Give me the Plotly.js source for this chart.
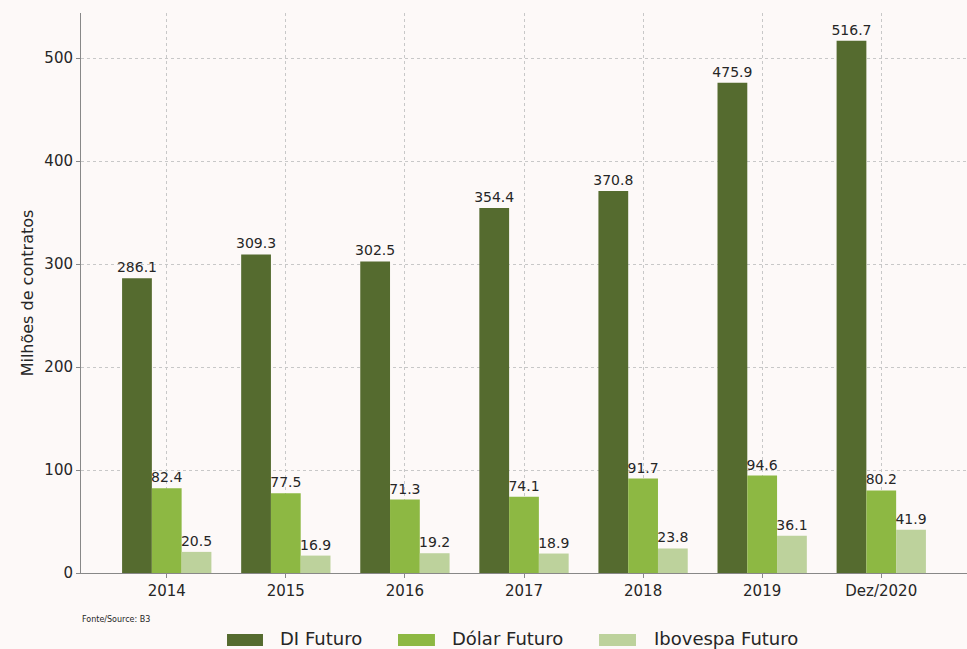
<!DOCTYPE html>
<html>
<head>
<meta charset="utf-8">
<script src="https://cdn.plot.ly/plotly-3.0.1.min.js"></script>
<style>html,body{margin:0;padding:0;background:#fdf9f8;}#chart{width:967px;height:649px;}</style>
</head>
<body>
<div id="chart"></div>
<script>
const categories = ["2014", "2015", "2016", "2017", "2018", "2019", "Dez/2020"];
const diFuturo = [286.1, 309.3, 302.5, 354.4, 370.8, 475.9, 516.7];
const dolarFuturo = [82.4, 77.5, 71.3, 74.1, 91.7, 94.6, 80.2];
const ibovespaFuturo = [20.5, 16.9, 19.2, 18.9, 23.8, 36.1, 41.9];
const seriesNames = ["DI Futuro", "Dólar Futuro", "Ibovespa Futuro"];
const yTicks = [0, 100, 200, 300, 400, 500];

const colors = ["#556b2f", "#8db843", "#bdd29c"];
const font = "DejaVu Sans, sans-serif";
const txt = "#262626";

function mk(name, vals, color) {
  return {
    type: "bar", name: name, x: categories, y: vals,
    marker: {color: color, line: {width: 0}},
    text: vals.map(v => v.toFixed(1)),
    textposition: "outside",
    constraintext: "none",
    cliponaxis: false,
    textfont: {family: font, size: 14, color: txt},
    hoverinfo: "skip"
  };
}

const data = [
  mk(seriesNames[0], diFuturo, colors[0]),
  mk(seriesNames[1], dolarFuturo, colors[1]),
  mk(seriesNames[2], ibovespaFuturo, colors[2])
];

// custom legend (matplotlib style wide patches)
const legendPos = [
  {x0: 0.1648, x1: 0.2054, tx: 0.2223},
  {x0: 0.3578, x1: 0.3995, tx: 0.4165},
  {x0: 0.5847, x1: 0.6264, tx: 0.6445}
];
const shapes = legendPos.map((p, i) => ({
  type: "rect", xref: "paper", yref: "paper",
  x0: p.x0, x1: p.x1, y0: -0.1303, y1: -0.1089,
  fillcolor: colors[i], line: {width: 0}
}));
const annotations = legendPos.map((p, i) => ({
  text: seriesNames[i], xref: "paper", yref: "paper", x: p.tx, y: -0.1161,
  xanchor: "left", yanchor: "middle", showarrow: false,
  font: {family: font, size: 18, color: txt}
}));
annotations.push({
  text: "Fonte/Source: B3", xref: "paper", yref: "paper", x: -0.001, y: -0.0839,
  xanchor: "left", yanchor: "middle", showarrow: false,
  font: {family: font, size: 8, color: txt}
});

const layout = {
  width: 967, height: 649,
  paper_bgcolor: "#fdf9f8", plot_bgcolor: "#fdf9f8",
  margin: {l: 81, r: 0, t: 13, b: 76, autoexpand: false},
  barmode: "group", bargap: 0.25, bargroupgap: 0,
  font: {family: font, color: txt},
  showlegend: false,
  xaxis: {
    type: "category",
    range: [-0.72, 6.72],
    showgrid: true, gridcolor: "#c8c8c8", griddash: "dot", gridwidth: 1,
    ticks: "outside", ticklen: 4, tickcolor: "#888", tickfont: {size: 15, family: font, color: txt},
    showline: true, linecolor: "#888", linewidth: 1, zeroline: false
  },
  yaxis: {
    range: [0, 543.7],
    tickvals: yTicks, ticktext: yTicks.map(String),
    showgrid: true, gridcolor: "#c8c8c8", griddash: "dot", gridwidth: 1,
    ticks: "outside", ticklen: 4, tickcolor: "#888", tickfont: {size: 15, family: font, color: txt},
    showline: true, linecolor: "#888", linewidth: 1, zeroline: false,
    title: {text: "Milhões de contratos", font: {size: 16, family: font, color: txt}, standoff: 6}
  },
  shapes: shapes,
  annotations: annotations
};

Plotly.newPlot("chart", data, layout, {displayModeBar: false, staticPlot: true});
</script>
</body>
</html>
